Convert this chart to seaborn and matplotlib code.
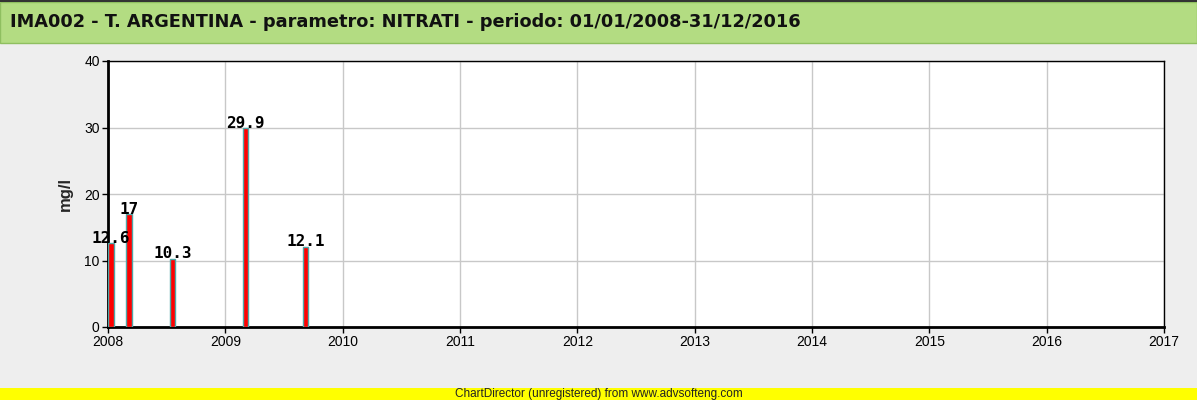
import numpy as np
import pandas as pd
import matplotlib
matplotlib.use("Agg")
import matplotlib.pyplot as plt
import seaborn as sns
from matplotlib.patches import Rectangle

#----------------------------------
# Data
#----------------------------------
dates = ["2008-01-10", "2008-03-06", "2008-07-19", "2009-03-04", "2009-09-07"]
values = [12.6, 17, 10.3, 29.9, 12.1]
labels = ["12.6", "17", "10.3", "29.9", "12.1"]
year_ticks = list(range(2008, 2018))
y_ticks = [0, 10, 20, 30, 40]

title = "IMA002 - T. ARGENTINA - parametro: NITRATI - periodo: 01/01/2008-31/12/2016"
footer = "ChartDirector (unregistered) from www.advsofteng.com"

# decimal years for a numeric x axis
d = pd.to_datetime(pd.Series(dates))
df = pd.DataFrame({
    "year": d.dt.year + (d.dt.dayofyear - 1) / 365.0,
    "value": values,
})

#----------------------------------
# Figure
#----------------------------------
sns.set_style("white")
plt.rcParams['font.family'] = ['Liberation Sans', 'DejaVu Sans']

fig = plt.figure(figsize=(11.97, 4.0), dpi=100)
fig.patch.set_facecolor("#eeeeee")

# title bar
fig.patches.append(Rectangle((0, 1 - 43 / 400), 1, 41 / 400, transform=fig.transFigure,
                             facecolor="#b3dc82", edgecolor="#8fbf60", lw=1, zorder=0))
fig.patches.append(Rectangle((0, 1 - 2 / 400), 1, 2 / 400, transform=fig.transFigure,
                             facecolor="#333333", edgecolor="none", zorder=1))
fig.text(10 / 1197, 1 - 22 / 400, title, fontsize=12.8, fontweight="bold",
         family="DejaVu Sans", va="center", ha="left", color="#111111")

# footer bar
fig.patches.append(Rectangle((0, 0), 1, 12 / 400, transform=fig.transFigure,
                             facecolor="#ffff00", edgecolor="none", zorder=0))
fig.text(0.5, 5.5 / 400, footer, fontsize=8.5, va="center", ha="center",
         color="#222222", stretch="condensed")

ax = fig.add_axes([108 / 1197, 1 - 327 / 400, 1056 / 1197, 266 / 400])
ax.set_facecolor("white")

bar_w = 0.045  # in years
min_gap = np.diff(np.sort(df["year"].values)).min()
sns.barplot(data=df, x="year", y="value", native_scale=True, width=bar_w / min_gap,
            color="#ff0000", edgecolor="#4fa8a8", linewidth=1, saturation=1, ax=ax, zorder=3)

for xv, yv, lab in zip(df["year"], df["value"], labels):
    ax.text(xv, yv - 0.4, lab, ha="center", va="bottom", fontsize=11.5, fontweight="bold",
            family="DejaVu Sans Mono", color="black", zorder=4)

ax.set_xlim(2008, 2017)
ax.set_ylim(0, 40)
ax.set_xticks(year_ticks)
ax.set_xticklabels([str(y) for y in year_ticks])
ax.set_yticks(y_ticks)
ax.grid(True, color="#c8c8c8", lw=1, zorder=0)
ax.set_axisbelow(True)

ax.set_xlabel("")
ax.set_ylabel("mg/l", fontsize=12, fontweight="bold", labelpad=8)
ax.tick_params(axis="both", direction="out", length=4, width=1, labelsize=10,
               colors="black", pad=2, left=True, bottom=True)

for side in ["left", "bottom"]:
    ax.spines[side].set_linewidth(2)
    ax.spines[side].set_color("black")
for side in ["top", "right"]:
    ax.spines[side].set_linewidth(1)
    ax.spines[side].set_color("black")

fig.savefig("out.png", dpi=100, facecolor=fig.get_facecolor())
